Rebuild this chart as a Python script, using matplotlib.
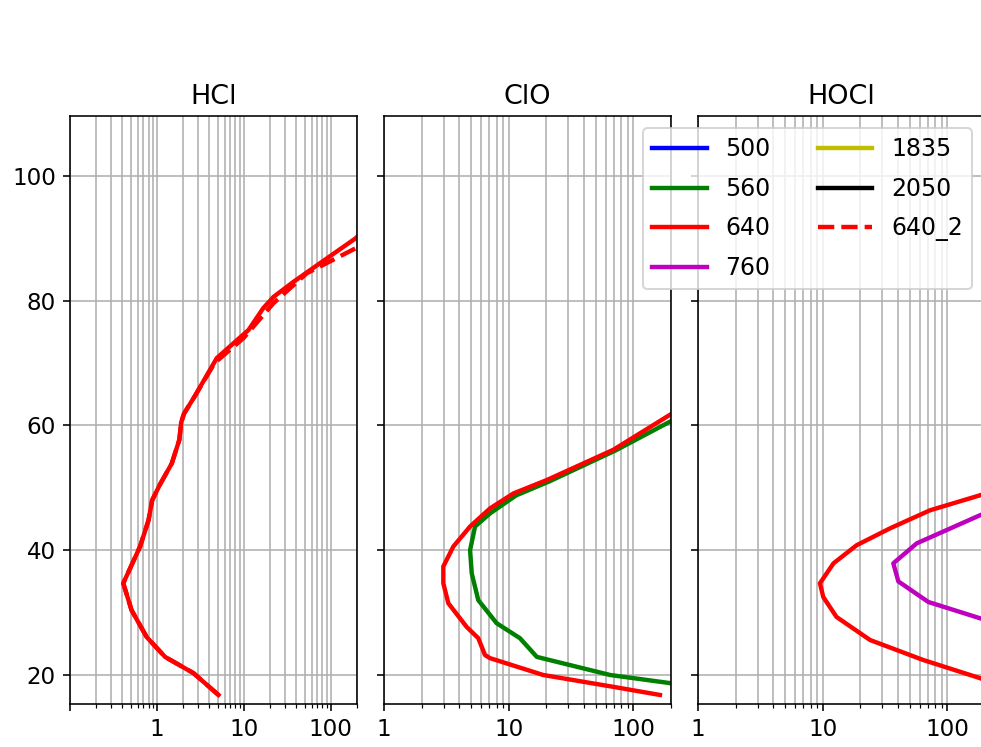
import numpy as np
import matplotlib
matplotlib.use("Agg")
import matplotlib.pyplot as plt
from matplotlib.ticker import FixedLocator, FixedFormatter, LogLocator

# ---------------- data ----------------
species = ["HCl", "ClO", "HOCl"]
series_names = ["500", "560", "640", "760", "1835", "2050", "640_2"]
series_colors = ["b", "g", "r", "m", "y", "k", "r"]
series_styles = ["-", "-", "-", "-", "-", "-", "--"]

# HCl panel
hcl_640_alt = [16.8, 20.3, 22.9, 26.1, 30.4, 34.7, 40.6, 44.8, 48.0, 50.5, 53.9, 57.7,
               60.5, 61.9, 64.6, 70.8, 75.3, 78.8, 80.6, 83.0, 86.0, 90.0, 95.0]
hcl_640_val = [5.1, 2.63, 1.24, 0.76, 0.51, 0.41, 0.64, 0.80, 0.88, 1.08, 1.48, 1.81,
               1.90, 2.05, 2.7, 4.88, 11.3, 16.7, 21.9, 37.0, 75.0, 193.0, 450.0]
hcl_640_2_alt = [16.8, 20.3, 22.9, 26.1, 30.4, 34.7, 40.6, 44.8, 48.0, 50.5, 53.9, 57.7,
                 60.5, 61.9, 64.6, 70.0, 74.0, 79.6, 84.4, 88.4, 93.0]
hcl_640_2_val = [5.1, 2.63, 1.24, 0.76, 0.51, 0.41, 0.64, 0.80, 0.88, 1.08, 1.48, 1.81,
                 1.90, 2.05, 2.7, 4.6, 9.9, 21.9, 53.0, 193.0, 450.0]

# ClO panel
clo_640_alt = [16.8, 18.1, 20.0, 22.7, 23.2, 25.9, 27.7, 31.5, 34.7, 37.4, 40.6,
               43.8, 46.7, 49.1, 51.25, 56.1, 61.7, 65.0]
clo_640_val = [163.0, 69.0, 18.9, 7.08, 6.45, 5.7, 4.6, 3.28, 2.99, 2.99, 3.6,
               4.9, 7.08, 10.9, 20.2, 69.0, 196.0, 400.0]
clo_560_alt = [15.0, 18.7, 20.0, 22.9, 25.9, 28.3, 32.0, 36.3, 40.0, 43.8, 45.9,
               48.8, 51.0, 56.0, 60.6, 64.0]
clo_560_val = [600.0, 196.0, 65.0, 16.8, 12.3, 8.0, 5.7, 5.05, 4.9, 5.37, 7.08,
               11.5, 21.0, 72.0, 196.0, 400.0]

# HOCl panel
hocl_640_alt = [17.0, 19.5, 22.4, 25.6, 29.3, 32.5, 34.7, 37.9, 40.8, 43.5, 46.4,
                48.8, 51.0]
hocl_640_val = [400.0, 182.0, 64.0, 24.0, 12.9, 10.1, 9.5, 12.2, 18.7, 34.6, 72.5,
                182.0, 400.0]
hocl_760_alt = [27.0, 29.1, 31.7, 35.0, 37.9, 41.1, 45.6, 48.0]
hocl_760_val = [400.0, 182.0, 70.3, 40.4, 36.8, 56.7, 182.0, 400.0]

empty = []

panels = {
    "HCl": {"640": (hcl_640_alt, hcl_640_val), "640_2": (hcl_640_2_alt, hcl_640_2_val)},
    "ClO": {"560": (clo_560_alt, clo_560_val), "640": (clo_640_alt, clo_640_val)},
    "HOCl": {"640": (hocl_640_alt, hocl_640_val), "760": (hocl_760_alt, hocl_760_val)},
}

yticks = [20, 40, 60, 80, 100]
xlims = [(0.1, 200), (1, 200), (1, 200)]
xtick_vals = [[0.1, 1, 10, 100], [1, 10, 100], [1, 10, 100]]
xtick_labels = [["", "1", "10", "100"], ["1", "10", "100"], ["1", "10", "100"]]

# ---------------- figure ----------------
plt.rcParams["font.size"] = 11.5
W, H = 981, 747
dpi = 144
fig = plt.figure(figsize=(W / dpi, H / dpi), dpi=dpi)

lefts = [70, 384, 698]
axw = 287
bottom_px, top_px = 704, 116

axes = []
for i, sp in enumerate(species):
    ax = fig.add_axes([lefts[i] / W, 1 - bottom_px / H, axw / W, (bottom_px - top_px) / H])
    axes.append(ax)
    ax.set_xscale("log")
    for name, col, ls in zip(series_names, series_colors, series_styles):
        if name in panels[sp]:
            a, v = panels[sp][name]
            ax.plot(v, a, color=col, ls=ls, lw=2.2, label=name)
    ax.set_xlim(*xlims[i])
    ax.set_ylim(15.35, 109.6)
    ax.set_yticks(yticks)
    if i > 0:
        ax.set_yticklabels([])
    ax.xaxis.set_major_locator(FixedLocator(xtick_vals[i]))
    ax.xaxis.set_major_formatter(FixedFormatter(xtick_labels[i]))
    ax.xaxis.set_minor_locator(LogLocator(base=10, subs=np.arange(2, 10), numticks=20))
    ax.grid(True, which="both")
    ax.set_title(sp, fontsize=13.5)

# legend handles
handles = []
for name, col, ls in zip(series_names, series_colors, series_styles):
    h, = axes[1].plot(empty, empty, color=col, ls=ls, lw=2.2, label=name)
    handles.append(h)

leg = fig.legend(handles=handles, labels=series_names, ncol=2,
                 loc="upper right", bbox_to_anchor=(984 / W, 1 - 116 / H),
                 fontsize=11.8, labelspacing=0.66, handlelength=2.3,
                 columnspacing=2.0)
leg.set_zorder(10)

fig.savefig("out.png", dpi=dpi)
